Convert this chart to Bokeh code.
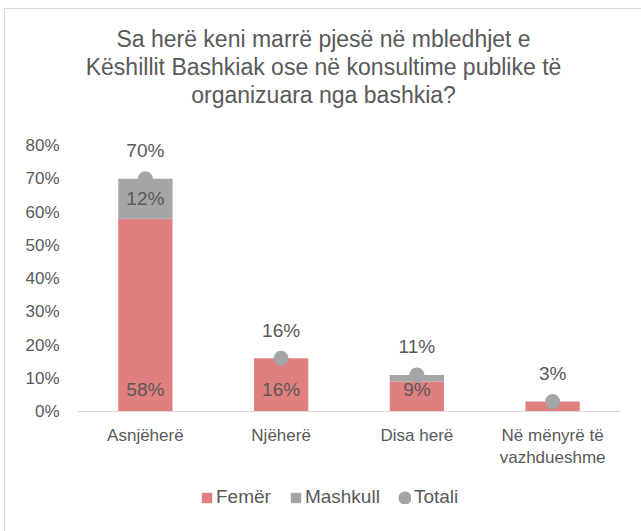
from bokeh.plotting import figure
from bokeh.layouts import column
from bokeh.models import (ColumnDataSource, FactorRange, NumeralTickFormatter,
                          Legend, LegendItem, FixedTicker, Title, Range1d)
from bokeh.core.properties import value
from bokeh.embed import file_html
from bokeh.resources import INLINE

title_lines = ["Sa herë keni marrë pjesë në mbledhjet e",
               "Këshillit Bashkiak ose në konsultime publike të",
               "organizuara nga bashkia?"]
categories = ["Asnjëherë", "Njëherë", "Disa herë", "Në mënyrë të\nvazhdueshme"]
series_names = ["Femër", "Mashkull", "Totali"]
femer = [0.58, 0.16, 0.09, 0.03]
mashkull = [0.12, 0.0, 0.02, 0.0]
totali = [0.70, 0.16, 0.11, 0.03]
femer_labels = ["58%", "16%", "9%", ""]
mashkull_labels = ["12%", "", "", ""]
totali_labels = ["70%", "16%", "11%", "3%"]
y_ticks = [0, 0.1, 0.2, 0.3, 0.4, 0.5, 0.6, 0.7, 0.8]

TXT = "#595959"
FONT = "Liberation Sans"
C_F, C_M, C_T = "#E07F7F", "#A5A5A5", "#A5A5A5"
TITLE_SIZE = 23

_W = {"a": 556, "b": 556, "c": 500, "d": 556, "e": 556, "ë": 556, "g": 556, "h": 556,
      "i": 222, "j": 222, "k": 500, "l": 222, "m": 833, "n": 556, "o": 556, "p": 556,
      "r": 333, "s": 500, "t": 278, "u": 556, "z": 500, " ": 278, "S": 667, "K": 667,
      "B": 667, "?": 556}


def text_width(s, size):
    return sum(_W.get(c, 556) for c in s) * size / 1000.0


# plot area: 0..0.8 spans 266 px; a little head room above 80% so labels are not clipped
PX_PER_UNIT = 266 / 0.8
HEAD = 17
FRAME_W, FRAME_H = 543, 266 + HEAD
W = 636
LEFT, TOP, BOTTOM = 72, 136 - HEAD, 66
H1 = TOP + FRAME_H + BOTTOM
H2 = 522 - H1
chart_center = 246

src = ColumnDataSource(dict(
    cat=categories, femer=femer, mashkull=mashkull, totali=totali,
    top_f=femer, top_m=[f + m for f, m in zip(femer, mashkull)],
    mid_m=[f + m / 2 for f, m in zip(femer, mashkull)],
    zero=[0] * len(categories),
    fl=femer_labels, ml=mashkull_labels, tl=totali_labels,
))

p = figure(width=W, height=H1, x_range=FactorRange(*categories, range_padding=0),
           y_range=Range1d(0, 0.8 + HEAD / PX_PER_UNIT), output_backend="svg",
           toolbar_location=None,
           min_border_left=LEFT, min_border_right=W - LEFT - FRAME_W,
           min_border_top=TOP, min_border_bottom=BOTTOM)


def title_style(t, line):
    t.text = line
    t.align = "left"
    t.standoff = 0
    t.offset = chart_center - text_width(line, TITLE_SIZE) / 2
    t.text_font = FONT
    t.text_font_size = f"{TITLE_SIZE}px"
    t.text_font_style = "normal"
    t.text_color = TXT


# default title is the outermost line; added titles stack outward from the plot
title_style(p.title, title_lines[0])
p.add_layout(Title(text=" ", text_font_size="17px", standoff=0), "above")
for line in reversed(title_lines[1:]):
    t = Title()
    title_style(t, line)
    p.add_layout(t, "above")

p.outline_line_color = None
p.xgrid.grid_line_color = None
p.ygrid.grid_line_color = None
p.border_fill_color = None

bar_f = dict(fill_color=C_F, line_color=None)
bar_m = dict(fill_color=C_M, line_color=None)
dot_t = dict(size=7, fill_color=C_T, line_color=C_T, line_width=8)

p.vbar(x="cat", bottom="zero", top="top_f", width=0.4, source=src, **bar_f)
p.vbar(x="cat", bottom="top_f", top="top_m", width=0.4, source=src, **bar_m)
p.scatter(x="cat", y="totali", source=src, **dot_t)

lbl = dict(text_font=value(FONT), text_font_size="19px", text_color=TXT,
           text_align="center", text_baseline="middle", source=src)
p.text(x="cat", y="zero", text="fl", y_offset=-22, **lbl)
p.text(x="cat", y="mid_m", text="ml", **lbl)
p.text(x="cat", y="totali", text="tl", y_offset=-28, **lbl)

p.xaxis.axis_line_color = "#D9D9D9"
p.xaxis.major_tick_line_color = None
p.xaxis.minor_tick_line_color = None
p.xaxis.major_label_text_color = TXT
p.xaxis.major_label_text_font = FONT
p.xaxis.major_label_text_font_size = "17px"
p.xaxis.major_label_standoff = 8

p.yaxis.ticker = FixedTicker(ticks=y_ticks)
p.yaxis.formatter = NumeralTickFormatter(format="0%")
p.yaxis.axis_line_color = None
p.yaxis.major_tick_line_color = None
p.yaxis.minor_tick_line_color = None
p.yaxis.major_label_text_color = TXT
p.yaxis.major_label_text_font = FONT
p.yaxis.major_label_text_font_size = "17px"
p.yaxis.major_label_standoff = 12

# legend strip below the chart: same series, drawn far outside this strip's view range
q = figure(width=W, height=H2, x_range=FactorRange(*categories), y_range=Range1d(100, 101),
           output_backend="svg", toolbar_location=None,
           min_border_left=0, min_border_right=0, min_border_top=0, min_border_bottom=0)
q.axis.visible = False
q.grid.visible = False
q.outline_line_color = None
q.border_fill_color = None
lf = q.vbar(x="cat", bottom="zero", top="top_f", width=0.4, source=src, **bar_f)
lm = q.vbar(x="cat", bottom="top_f", top="top_m", width=0.4, source=src, **bar_m)
lt = q.scatter(x="cat", y="totali", source=src, **dot_t)

legend = Legend(items=[LegendItem(label=series_names[0], renderers=[lf], index=0),
                       LegendItem(label=series_names[1], renderers=[lm], index=0),
                       LegendItem(label=series_names[2], renderers=[lt], index=0)],
                orientation="horizontal", location=(123, 23),
                padding=0, margin=0, spacing=18, glyph_width=13, glyph_height=13,
                label_standoff=3, label_text_font=FONT, label_text_font_size="19px",
                label_text_color=TXT, border_line_color=None,
                background_fill_alpha=0)
q.add_layout(legend, "center")

layout = column(p, q, spacing=0)
layout.styles = {"margin-left": "4px", "margin-top": "8px",
                 "border-left": "1px solid #D9D9D9", "border-top": "1px solid #D9D9D9"}

open("out.html", "w").write(file_html(layout, INLINE))
